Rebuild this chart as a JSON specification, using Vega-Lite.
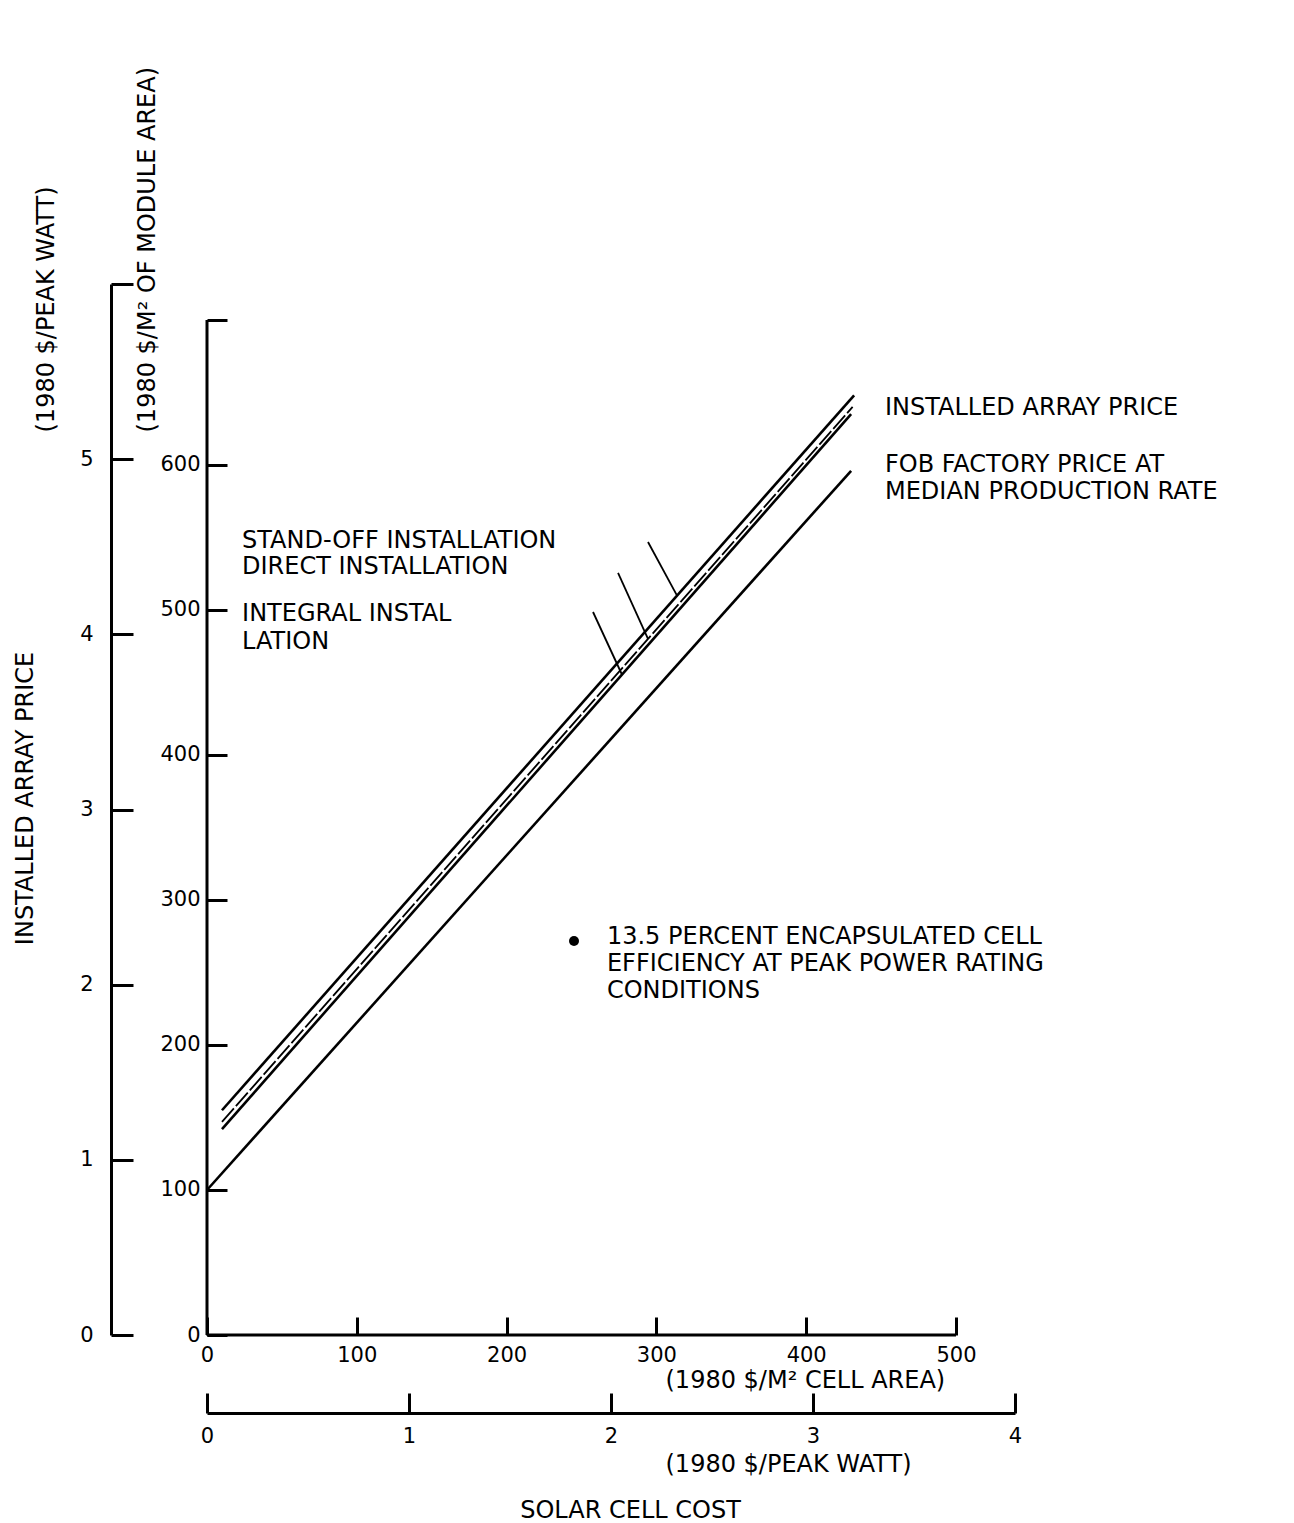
{
  "$schema": "https://vega.github.io/schema/vega-lite/v6.json",
  "width": 808,
  "height": 1051,
  "autosize": {"type": "none"},
  "padding": {"left": 207, "top": 284, "right": 279, "bottom": 188},
  "background": "white",
  "config": {
    "font": "DejaVu Sans",
    "view": {"stroke": null},
    "axis": {
      "grid": false,
      "domainColor": "black",
      "tickColor": "black",
      "labelColor": "black",
      "titleColor": "black",
      "labelFont": "DejaVu Sans",
      "titleFont": "DejaVu Sans",
      "labelFontSize": 21,
      "titleFontSize": 24,
      "titleFontWeight": "normal",
      "domainWidth": 3,
      "tickWidth": 3,
      "labelFlush": false,
      "labelOverlap": false,
      "labelBound": false
    }
  },
  "datasets": {
    "price_lines": [
      {"series": "STAND-OFF INSTALLATION", "x": 10, "y": 155},
      {"series": "STAND-OFF INSTALLATION", "x": 432, "y": 648},
      {"series": "DIRECT INSTALLATION", "x": 10, "y": 147},
      {"series": "DIRECT INSTALLATION", "x": 431, "y": 640},
      {"series": "INTEGRAL INSTALLATION", "x": 10, "y": 142},
      {"series": "INTEGRAL INSTALLATION", "x": 430, "y": 635},
      {"series": "FOB FACTORY PRICE", "x": 0, "y": 100},
      {"series": "FOB FACTORY PRICE", "x": 430, "y": 596}
    ],
    "axis_lines": [
      {"x": 0, "y": 0, "x2": 0, "y2": 700},
      {"x": 0, "y": 0, "x2": 500, "y2": 0}
    ],
    "leaders": [
      {"x": 294.4, "y": 546.9, "x2": 313.8, "y2": 509.9},
      {"x": 274.4, "y": 525.5, "x2": 294.4, "y2": 480},
      {"x": 257.7, "y": 498.6, "x2": 277, "y2": 455.5}
    ],
    "notes": [
      {"label": "INSTALLED ARRAY PRICE", "x": 452.6, "y": 639.3},
      {"label": "FOB FACTORY PRICE AT", "x": 452.6, "y": 600},
      {"label": "MEDIAN PRODUCTION RATE", "x": 452.6, "y": 581.4},
      {"label": "STAND-OFF INSTALLATION", "x": 23.4, "y": 547.6},
      {"label": "DIRECT INSTALLATION", "x": 23.4, "y": 529.7},
      {"label": "INTEGRAL INSTAL", "x": 23.4, "y": 497.2},
      {"label": "LATION", "x": 23.4, "y": 477.9},
      {"label": "13.5 PERCENT ENCAPSULATED CELL", "x": 267, "y": 274.5},
      {"label": "EFFICIENCY AT PEAK POWER RATING", "x": 267, "y": 255.9},
      {"label": "CONDITIONS", "x": 267, "y": 237.2}
    ],
    "bullet": [{"x": 245, "y": 271.7}],
    "outer_extent": [{"cw": 0, "aw": 0}, {"cw": 4, "aw": 6}],
    "title_extent": [{"a": 0, "b": 0}, {"a": 1, "b": 1}]
  },
  "layer": [
    {
      "encoding": {
        "x": {
          "field": "x", "type": "quantitative",
          "scale": {"domain": [0, 539.4], "nice": false, "zero": false},
          "axis": {
            "orient": "bottom", "offset": 0, "domain": false,
            "values": [0, 100, 200, 300, 400, 500],
            "tickSize": -18, "labelPadding": 27,
            "title": "(1980 $/M² CELL AREA)",
            "titleX": 458, "titleY": 45, "titleAlign": "left", "titleBaseline": "middle"
          }
        },
        "y": {
          "field": "y", "type": "quantitative",
          "scale": {"domain": [0, 724.8], "nice": false, "zero": false},
          "axis": {
            "orient": "left", "offset": 0, "domain": false,
            "values": [0, 100, 200, 300, 400, 500, 600, 700],
            "labelExpr": "datum.value == 700 ? '' : datum.label",
            "tickSize": -20, "labelPadding": 27,
            "title": "(1980 $/M² OF MODULE AREA)",
            "titleX": -60, "titleY": 148, "titleAngle": 270, "titleAlign": "left", "titleBaseline": "middle"
          }
        }
      },
      "layer": [
        {
          "data": {"name": "axis_lines"},
          "mark": {"type": "rule", "color": "black", "strokeWidth": 3},
          "encoding": {"x2": {"field": "x2"}, "y2": {"field": "y2"}}
        },
        {
          "data": {"name": "price_lines"},
          "transform": [{"filter": "datum.series != 'DIRECT INSTALLATION'"}],
          "mark": {"type": "line", "color": "black", "strokeWidth": 2.6},
          "encoding": {"detail": {"field": "series"}}
        },
        {
          "data": {"name": "price_lines"},
          "transform": [{"filter": "datum.series == 'DIRECT INSTALLATION'"}],
          "mark": {"type": "line", "color": "black", "strokeWidth": 1.8, "strokeDash": [18, 3]},
          "encoding": {"detail": {"field": "series"}}
        },
        {
          "data": {"name": "leaders"},
          "mark": {"type": "rule", "color": "black", "strokeWidth": 1.8},
          "encoding": {"x2": {"field": "x2"}, "y2": {"field": "y2"}}
        },
        {
          "data": {"name": "bullet"},
          "mark": {"type": "point", "shape": "circle", "filled": true, "color": "black", "size": 100, "opacity": 1}
        },
        {
          "data": {"name": "notes"},
          "mark": {"type": "text", "align": "left", "baseline": "middle", "font": "DejaVu Sans", "fontSize": 24, "color": "black"},
          "encoding": {"text": {"field": "label"}}
        }
      ]
    },
    {
      "data": {"name": "outer_extent"},
      "mark": {"type": "point", "opacity": 0},
      "encoding": {
        "x": {
          "field": "cw", "type": "quantitative",
          "scale": {"domain": [0, 4], "nice": false, "zero": false},
          "axis": {
            "orient": "bottom", "offset": 78, "domain": true,
            "values": [0, 1, 2, 3, 4],
            "tickSize": -20, "labelPadding": 32,
            "title": "(1980 $/PEAK WATT)",
            "titleX": 458, "titleY": 51, "titleAlign": "left", "titleBaseline": "middle"
          }
        },
        "y": {
          "field": "aw", "type": "quantitative",
          "scale": {"domain": [0, 6], "nice": false, "zero": false},
          "axis": {
            "orient": "left", "offset": 96, "domain": true,
            "values": [0, 1, 2, 3, 4, 5, 6],
            "labelExpr": "datum.value == 6 ? '' : datum.label",
            "tickSize": -22, "labelPadding": 40,
            "title": "(1980 $/PEAK WATT)",
            "titleX": -65, "titleY": 148, "titleAngle": 270, "titleAlign": "left", "titleBaseline": "middle"
          }
        }
      }
    },
    {
      "data": {"name": "title_extent"},
      "mark": {"type": "point", "opacity": 0},
      "encoding": {
        "x": {
          "field": "a", "type": "quantitative",
          "scale": {"domain": [0, 1], "nice": false, "zero": false},
          "axis": {
            "orient": "bottom", "offset": 0, "domain": false, "ticks": false, "labels": false,
            "title": "SOLAR CELL COST",
            "titleX": 423, "titleY": 175, "titleAlign": "center", "titleBaseline": "middle"
          }
        },
        "y": {
          "field": "b", "type": "quantitative",
          "scale": {"domain": [0, 1], "nice": false, "zero": false},
          "axis": {
            "orient": "left", "offset": 0, "domain": false, "ticks": false, "labels": false,
            "title": "INSTALLED ARRAY PRICE",
            "titleX": -182, "titleY": 514, "titleAngle": 270, "titleAlign": "center", "titleBaseline": "middle"
          }
        }
      }
    }
  ],
  "resolve": {"scale": {"x": "independent", "y": "independent"}}
}
